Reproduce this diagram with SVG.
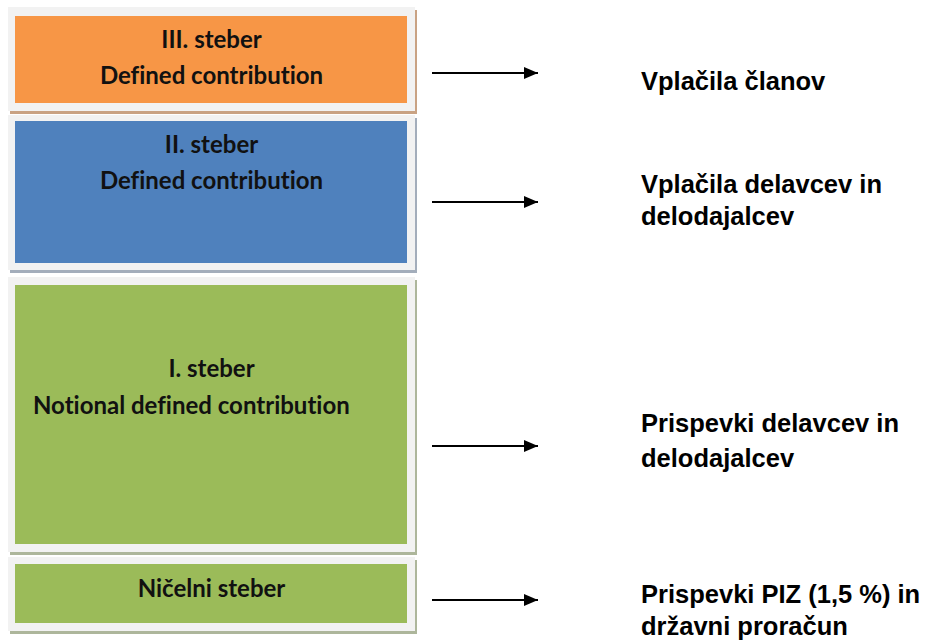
<svg xmlns="http://www.w3.org/2000/svg" width="926" height="642" viewBox="0 0 926 642">
<style>
.frame{fill:#f2f2f2}
.lbl{font-family:Lato,"Open Sans",sans-serif;font-weight:700;font-size:24px;fill:#111;text-anchor:middle;font-variant-ligatures:none}
.rt{font-family:"Liberation Sans",Arial,sans-serif;font-weight:700;font-size:25.5px;fill:#000}
.arr{stroke:#000;stroke-width:2.2;fill:none}
</style>
<defs>
<marker id="ah" markerUnits="userSpaceOnUse" markerWidth="16" markerHeight="14" refX="14" refY="6.5" orient="auto">
<path d="M0,0.5 L14,6.5 L0,12.5 Z" fill="#000"/>
</marker>
</defs>
<rect width="926" height="642" fill="#fff"/>
<g id="pillar3">
<rect x="10" y="10" width="407" height="104" fill="#c9a283"/>
<rect class="frame" x="8" y="7" width="407" height="104"/>
<rect x="15" y="16" width="392" height="87" fill="#f79646"/>
<text class="lbl" x="211.5" y="48">III. steber</text>
<text class="lbl" x="211.5" y="84">Defined contribution</text>
</g>
<g id="pillar2">
<rect x="10" y="118" width="407" height="155" fill="#a3adbb"/>
<rect class="frame" x="8" y="115" width="407" height="155"/>
<rect x="15" y="121" width="392" height="142" fill="#4f81bd"/>
<text class="lbl" x="211.5" y="153">II. steber</text>
<text class="lbl" x="211.5" y="189">Defined contribution</text>
</g>
<g id="pillar1">
<rect x="10" y="280" width="407" height="275" fill="#adb69b"/>
<rect class="frame" x="8" y="277" width="407" height="275"/>
<rect x="15" y="285" width="392" height="259" fill="#9bbb59"/>
<text class="lbl" x="211.5" y="377">I. steber</text>
<text class="lbl" x="33" y="414" style="text-anchor:start">Notional defined contribution</text>
</g>
<g id="pillar0">
<rect x="10" y="560" width="407" height="74" fill="#adb69b"/>
<rect class="frame" x="8" y="557" width="407" height="74"/>
<rect x="15" y="564" width="392" height="59" fill="#9bbb59"/>
<text class="lbl" x="211.5" y="597">Ničelni steber</text>
</g>
<g id="connectors">
<line class="arr" x1="432" y1="73" x2="538" y2="73" marker-end="url(#ah)"/>
<line class="arr" x1="432" y1="202" x2="538" y2="202" marker-end="url(#ah)"/>
<line class="arr" x1="432" y1="446" x2="538" y2="446" marker-end="url(#ah)"/>
<line class="arr" x1="432" y1="600" x2="538" y2="600" marker-end="url(#ah)"/>
</g>
<g id="labels">
<text class="rt" x="641" y="90">Vplačila članov</text>
<text class="rt" x="641" y="193">Vplačila delavcev in</text>
<text class="rt" x="641" y="225">delodajalcev</text>
<text class="rt" x="641" y="432">Prispevki delavcev in</text>
<text class="rt" x="641" y="467">delodajalcev</text>
<text class="rt" x="641" y="603">Prispevki PIZ (1,5 %) in</text>
<text class="rt" x="641" y="635">državni proračun</text>
</g>
</svg>
